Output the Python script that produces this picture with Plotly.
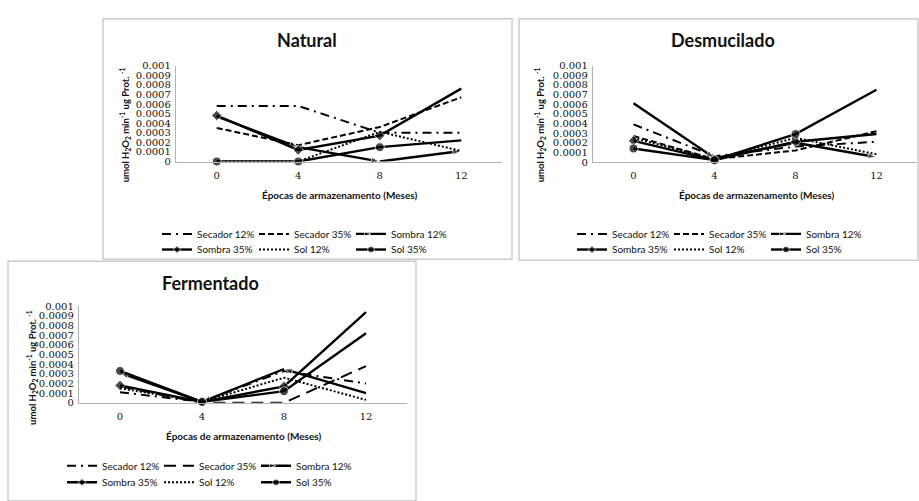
import plotly.graph_objects as go

# ---------------- data ----------------
months = ["0", "4", "8", "12"]
series_names = ["Secador 12%", "Secador 35%", "Sombra 12%", "Sombra 35%", "Sol 12%", "Sol 35%"]
panel_titles = ["Natural", "Desmucilado", "Fermentado"]
ytick_vals = [0, 0.0001, 0.0002, 0.0003, 0.0004, 0.0005, 0.0006, 0.0007, 0.0008, 0.0009, 0.001]
ytick_text = ["0", "0.0001", "0.0002", "0.0003", "0.0004", "0.0005", "0.0006", "0.0007", "0.0008", "0.0009", "0.001"]

natural_secador12 = [0.00058, 0.00058, 0.00030, 0.00030]
natural_secador35 = [0.00035, 0.00017, 0.00036, 0.00067]
natural_sombra12 = [0.00047, 0.00015, 0.0, 0.00011]
natural_sombra35 = [0.00048, 0.00012, 0.00027, 0.00076]
natural_sol12 = [0.0, 0.0, 0.00031, 0.00011]
natural_sol35 = [0.0, 0.0, 0.00015, 0.00022]

desmucilado_secador12 = [0.00039, 0.00006, 0.00016, 0.00021]
desmucilado_secador35 = [0.00027, 0.00003, 0.00012, 0.00032]
desmucilado_sombra12 = [0.00061, 0.00004, 0.00020, 0.00005]
desmucilado_sombra35 = [0.00022, 0.00002, 0.00021, 0.00029]
desmucilado_sol12 = [0.00025, 0.00003, 0.00025, 0.00008]
desmucilado_sol35 = [0.00014, 0.00002, 0.00029, 0.00075]

fermentado_secador12 = [0.00011, 0.00001, 0.00033, 0.00020]
fermentado_secador35 = [0.00017, 0.0, 0.0, 0.00038]
fermentado_sombra12 = [0.00031, 0.00001, 0.00035, 0.00010]
fermentado_sombra35 = [0.00018, 0.00001, 0.00017, 0.00094]
fermentado_sol12 = [0.00015, 0.00001, 0.00026, 0.00003]
fermentado_sol35 = [0.00033, 0.00001, 0.00012, 0.00072]

panel_data = [
    [natural_secador12, natural_secador35, natural_sombra12, natural_sombra35, natural_sol12, natural_sol35],
    [desmucilado_secador12, desmucilado_secador35, desmucilado_sombra12, desmucilado_sombra35, desmucilado_sol12, desmucilado_sol35],
    [fermentado_secador12, fermentado_secador35, fermentado_sombra12, fermentado_sombra35, fermentado_sol12, fermentado_sol35],
]

# ---------------- layout helpers ----------------
W, H = 919, 501


def px(x):
    return x / W


def py(y):
    return 1 - y / H


TICK_FONT = dict(family="DejaVu Serif", size=10, color="#111111")
LABEL_FONT = dict(family="Lato", size=10, color="#111111")
AXIS_GREY = "#b3b3b3"

# pixel geometry of each panel (decoration / placement only)
panels = [
    dict(box=(103, 13, 512, 259), plot_x=(176, 502), plot_y=(61, 159),
         title=(307, 35), xtitle=(339, 193), ytitle=(125, 122),
         leg_x=157, leg_y=(233, 249)),
    dict(box=(519, 13, 918, 260), plot_x=(593, 917), plot_y=(61, 159.5),
         title=(723, 35), xtitle=(756, 193), ytitle=(540, 122),
         leg_x=572, leg_y=(233, 249)),
    dict(box=(8, 261, 416, 506), plot_x=(79, 407), plot_y=(307, 405.7),
         title=(210, 283), xtitle=(243, 440), ytitle=(32, 370),
         leg_x=62, leg_y=(470, 487)),
]

# style per series: (dash, width, marker symbol, marker placement)
styles = {
    "Secador 12%": dict(dash="9px,5px,2px,5px", width=2, symbol=None, where=None),
    "Secador 35%": dict(dash="6px,3px", width=2, symbol=None, where=None),
    "Sombra 12%": dict(dash="solid", width=2.4, symbol="arrow", where="end"),
    "Sombra 35%": dict(dash="solid", width=2.4, symbol="diamond", where="begin"),
    "Sol 12%": dict(dash="2px,2px", width=2, symbol=None, where=None),
    "Sol 35%": dict(dash="solid", width=2.4, symbol="circle", where="begin"),
}

fig = go.Figure()

for p, (cfg, data) in enumerate(zip(panels, panel_data)):
    sfx = "" if p == 0 else str(p + 1)
    for i, (name, vals) in enumerate(zip(series_names, data)):
        st = dict(styles[name])
        if p == 2 and name == "Secador 35%":
            st["dash"] = "12px,7px"
        if p == 2 and name == "Sombra 12%":
            st["where"] = "begin_arrow"
        xs, ys = list(months), list(vals)
        marker = dict(color="black")
        mode = "lines"
        if st["symbol"] is not None:
            mode = "lines+markers"
            s = 9 if st["symbol"] != "diamond" else 8
            if st["where"] == "end":
                marker.update(symbol="arrow", size=[0, s, s, s], angleref="previous")
            elif st["where"] == "begin_arrow":
                xs, ys = xs[::-1], ys[::-1]
                marker.update(symbol="arrow", size=[0, s, s, s], angleref="previous")
            else:
                marker.update(symbol=st["symbol"], size=[s, s, s, 0])
        legend_id = 2 * p + (1 if i < 3 else 2)
        fig.add_trace(go.Scatter(
            x=xs, y=ys, name=name, mode=mode,
            line=dict(color="black", width=st["width"], dash=st["dash"]),
            marker=marker, cliponaxis=False,
            xaxis="x" + sfx, yaxis="y" + sfx,
            legend="legend" if legend_id == 1 else "legend%d" % legend_id,
            legendrank=i,
        ))

    x0, x1 = cfg["plot_x"]
    ytop, ybot = cfg["plot_y"]
    fig.update_layout({
        "xaxis" + sfx: dict(
            domain=[px(x0), px(x1)], anchor="y" + sfx, type="category",
            categoryorder="array", categoryarray=months,
            range=[-0.5, 3.5], showline=True, linecolor=AXIS_GREY, linewidth=1.3,
            showgrid=False, zeroline=False, ticks="", tickfont=TICK_FONT,
            ticklabelstandoff=4, fixedrange=True,
        ),
        "yaxis" + sfx: dict(
            domain=[py(ybot), py(ytop)], anchor="x" + sfx,
            range=[0, 0.001], showline=True, linecolor=AXIS_GREY, linewidth=1.3,
            showgrid=False, zeroline=False, ticks="", tickvals=ytick_vals,
            ticktext=ytick_text, tickfont=TICK_FONT, ticklabelstandoff=2,
            fixedrange=True,
        ),
    })

    # legends (two rows per panel)
    for r in range(2):
        legend_id = 2 * p + r + 1
        key = "legend" if legend_id == 1 else "legend%d" % legend_id
        fig.update_layout({key: dict(
            orientation="h", x=px(cfg["leg_x"]), xanchor="left",
            y=py(cfg["leg_y"][r]), yanchor="middle",
            font=LABEL_FONT, bgcolor="rgba(0,0,0,0)",
            entrywidth=52, entrywidthmode="pixels",
            itemwidth=30, tracegroupgap=0, traceorder="normal",
        )})

    # panel border
    bx0, by0, bx1, by1 = cfg["box"]
    fig.add_shape(type="rect", xref="paper", yref="paper",
                  x0=px(bx0), x1=px(bx1), y0=py(by1), y1=py(by0),
                  line=dict(color="#cccccc", width=1.5), fillcolor="rgba(0,0,0,0)",
                  layer="below")

    # titles
    tx, ty = cfg["title"]
    fig.add_annotation(text="<b>%s</b>" % panel_titles[p], x=px(tx), y=py(ty),
                       xref="paper", yref="paper", showarrow=False,
                       xanchor="center", yanchor="middle",
                       font=dict(family="Lato", size=18, color="#111111"))
    ax_, ay_ = cfg["xtitle"]
    fig.add_annotation(text="<b>Épocas de armazenamento (Meses)</b>", x=px(ax_), y=py(ay_),
                       xref="paper", yref="paper", showarrow=False,
                       xanchor="center", yanchor="middle",
                       font=dict(family="Lato", size=10, color="#111111"))
    yx, yy = cfg["ytitle"]
    fig.add_annotation(
        text="<b>umol H<sub>2</sub>O<sub>2</sub> min<sup>-1</sup> ug Prot. <sup>-1</sup></b>",
        x=px(yx), y=py(yy), xref="paper", yref="paper", showarrow=False,
        xanchor="center", yanchor="middle",
        textangle=-90, font=dict(family="Lato", size=9.5, color="#111111"))

fig.update_layout(
    width=W, height=H, margin=dict(l=0, r=0, t=0, b=0),
    paper_bgcolor="white", plot_bgcolor="rgba(0,0,0,0)",
)

fig.write_html("out.html", config={"displayModeBar": False},
               post_script="document.body.style.margin='0';document.body.style.padding='0';")
